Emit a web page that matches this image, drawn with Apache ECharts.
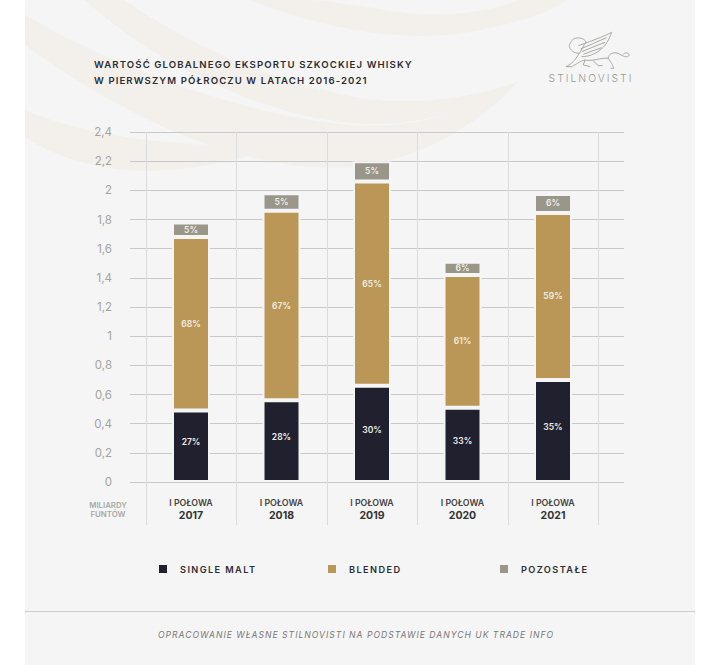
<!DOCTYPE html>
<html lang="pl">
<head>
<meta charset="utf-8">
<style>
html,body{margin:0;padding:0;background:#fff}
#chart{width:720px;height:665px}
svg text[style*="9.6px"]{letter-spacing:1.1px}
svg text[style*="9.2px"]{letter-spacing:1.4px}
svg text[style*="8.6px"]{letter-spacing:1px}
svg text[style*="10.4px"]{letter-spacing:2px}
</style>
<script src="https://cdn.jsdelivr.net/npm/echarts@6/dist/echarts.min.js"></script>
</head>
<body>
<div id="chart"></div>
<script>
const categories = ['2017', '2018', '2019', '2020', '2021'];
const singleMalt = [0.49, 0.56, 0.66, 0.51, 0.70];
const blended = [1.19, 1.30, 1.40, 0.91, 1.145];
const other = [0.10, 0.12, 0.14, 0.09, 0.13];
const singleMaltPct = [27, 28, 30, 33, 35];
const blendedPct = [68, 67, 65, 61, 59];
const otherPct = [5, 5, 5, 6, 6];
const seriesNames = ['SINGLE MALT', 'BLENDED', 'POZOSTAŁE'];
const seriesColors = ['#20202e', '#bb9757', '#9a968a'];
const titleText = 'WARTOŚĆ GLOBALNEGO EKSPORTU SZKOCKIEJ WHISKY\nW PIERWSZYM PÓŁROCZU W LATACH 2016-2021';
const unitText = 'MILIARDY\nFUNTÓW';
const periodText = 'I POŁOWA';
const footerText = 'OPRACOWANIE WŁASNE STILNOVISTI NA PODSTAWIE DANYCH UK TRADE INFO';
const brandText = 'STILNOVISTI';

const FONT = 'Inter, "Open Sans", sans-serif';
const swooshColor = '#f3f0ec';
const swooshes = [
  'M250 0 C310 25 400 45 470 32 C510 25 545 15 567 0 L520 0 C490 12 440 18 400 12 C360 6 320 0 310 0',
  'M85 0 C150 60 250 110 340 122 C400 130 470 115 519 81 C470 100 410 105 360 98 C270 82 180 40 125 0',
  'M25 15 L25 45 C100 100 220 170 340 168 C410 166 480 125 519 81 C470 112 410 130 350 125 C240 115 110 65 25 15',
  'M25 110 L25 137 C60 160 110 175 170 170 C220 165 260 155 293 140 C250 147 210 146 167 142 C110 137 60 125 25 110'
];
const griffin = [
  'M115 62 C150 50 190 35 215 22 C205 50 195 65 180 75 C165 88 145 95 125 95',
  'M122 72 L200 38', 'M125 80 L195 52', 'M130 88 L185 68',
  'M100 42 C115 35 135 40 138 52 C130 62 125 75 118 85 C105 85 92 78 88 65 C88 55 95 48 100 42',
  'M118 85 C108 100 100 115 78 125 L95 125 C110 118 120 108 135 105 C160 110 180 98 205 100 C215 115 218 120 222 130 L212 130',
  'M135 105 L130 120 L150 125', 'M160 108 L175 122 L188 122',
  'M205 100 C205 90 215 80 235 85 C250 95 265 100 268 90 C265 82 255 82 250 88'
];

// Turns a small M/L/C outline into points for ECharts' polygon and polyline elements.
function outline(d) {
  const tokens = d.trim().split(/\s+/).flatMap(t => t.match(/[MLC]|-?[\d.]+/g));
  const pts = [];
  let i = 0, cmd = 'M', cur = [0, 0];
  while (i < tokens.length) {
    if (/[MLC]/.test(tokens[i])) cmd = tokens[i++];
    if (cmd === 'C') {
      const c = tokens.slice(i, i + 6).map(Number);
      i += 6;
      for (let s = 1; s <= 16; s++) {
        const t = s / 16, u = 1 - t;
        pts.push([
          u*u*u*cur[0] + 3*u*u*t*c[0] + 3*u*t*t*c[2] + t*t*t*c[4],
          u*u*u*cur[1] + 3*u*u*t*c[1] + 3*u*t*t*c[3] + t*t*t*c[5]
        ]);
      }
      cur = [c[4], c[5]];
    } else {
      cur = [Number(tokens[i]), Number(tokens[i + 1])];
      i += 2;
      pts.push(cur);
    }
  }
  return pts;
}

function barSeries(i, values, pct, offset) {
  return {
    name: seriesNames[i],
    type: 'bar',
    stack: 'total',
    xAxisIndex: 1,
    yAxisIndex: 1,
    barWidth: 38,
    data: values,
    itemStyle: { color: seriesColors[i], borderColor: '#f5f5f5', borderWidth: 2 },
    label: {
      show: true,
      position: 'inside',
      offset: offset,
      color: '#f1eee8',
      fontFamily: FONT,
      fontWeight: 600,
      fontSize: 8.5,
      formatter: p => pct[p.dataIndex] + '%'
    }
  };
}

function legendAt(i, left) {
  return {
    data: [seriesNames[i]],
    left: left,
    top: 558,
    icon: 'rect',
    itemWidth: 10,
    itemHeight: 10,
    selectedMode: false,
    textStyle: {
      color: '#2d2d35',
      fontFamily: FONT,
      fontWeight: 600,
      fontSize: 9.2,
      padding: [0, 0, 0, 7]
    }
  };
}

const chart = echarts.init(document.getElementById('chart'), null, { renderer: 'svg', width: 720, height: 665 });
chart.setOption({
  animation: false,
  backgroundColor: '#ffffff',
  title: {
    text: titleText,
    left: 94,
    top: 57,
    padding: 0,
    textStyle: { color: '#2d2d33', fontFamily: FONT, fontWeight: 600, fontSize: 9.6, lineHeight: 15.5 }
  },
  legend: [legendAt(0, 152), legendAt(1, 321), legendAt(2, 493)],
  grid: [
    { left: 130, right: 96, top: 132, bottom: 183 },
    { left: 145.75, width: 452.5, top: 132, bottom: 183 }
  ],
  xAxis: [
    { gridIndex: 0, type: 'category', data: categories, show: false },
    {
      gridIndex: 1,
      type: 'category',
      data: categories,
      axisLine: { show: false },
      axisTick: { show: true, inside: false, length: 43, interval: 0, lineStyle: { color: '#dcdcdc' } },
      splitLine: { show: true, interval: 0, lineStyle: { color: '#dcdcdc' } },
      axisLabel: {
        margin: 14,
        interval: 0,
        formatter: v => '{a|' + periodText + '}\n{b|' + v + '}',
        rich: {
          a: { color: '#444', fontFamily: FONT, fontWeight: 600, fontSize: 8.8, lineHeight: 13 },
          b: { color: '#333', fontFamily: FONT, fontWeight: 700, fontSize: 10.5, lineHeight: 13 }
        }
      }
    }
  ],
  yAxis: [
    {
      gridIndex: 0,
      type: 'value',
      min: 0,
      max: 2.4,
      interval: 0.2,
      axisLine: { show: false },
      axisTick: { show: false },
      splitLine: { show: true, lineStyle: { color: '#c9c9c8' } },
      axisLabel: {
        margin: 18,
        color: '#a3a3a0',
        fontFamily: FONT,
        fontSize: 11.5,
        formatter: v => String(v).replace('.', ',')
      }
    },
    { gridIndex: 1, type: 'value', min: 0, max: 2.4, interval: 0.2, show: false }
  ],
  series: [
    barSeries(0, singleMalt, singleMaltPct, [0, -4]),
    barSeries(1, blended, blendedPct, [0, 0]),
    barSeries(2, other, otherPct, [0, 0])
  ],
  graphic: [
    { type: 'rect', z: -10, silent: true, shape: { x: 25, y: 0, width: 670, height: 665 }, style: { fill: '#f5f5f5' } },
    ...swooshes.map(d => ({ type: 'polygon', z: -9, silent: true, shape: { points: outline(d) }, style: { fill: swooshColor } })),
    ...griffin.map(d => ({ type: 'polyline', z: -8, silent: true, x: 540, y: 25, scaleX: 1 / 3, scaleY: 1 / 3, shape: { points: outline(d) }, style: { fill: 'none', stroke: '#9a9a95', lineWidth: 2.6 } })),
    { type: 'text', silent: true, x: 591, y: 73, style: { text: brandText, fill: '#9a9a96', font: '300 10.4px ' + FONT, textAlign: 'center' } },
    { type: 'text', silent: true, x: 108, y: 500, style: { text: unitText, fill: '#a8a8a4', font: '600 7.8px ' + FONT, textAlign: 'center', lineHeight: 9 } },
    { type: 'rect', silent: true, shape: { x: 25, y: 611, width: 670, height: 1 }, style: { fill: '#cfcdc9' } },
    { type: 'text', silent: true, x: 356, y: 630, style: { text: footerText, fill: '#77777a', font: 'italic 400 8.6px ' + FONT, textAlign: 'center' } }
  ]
});
</script>
</body>
</html>
